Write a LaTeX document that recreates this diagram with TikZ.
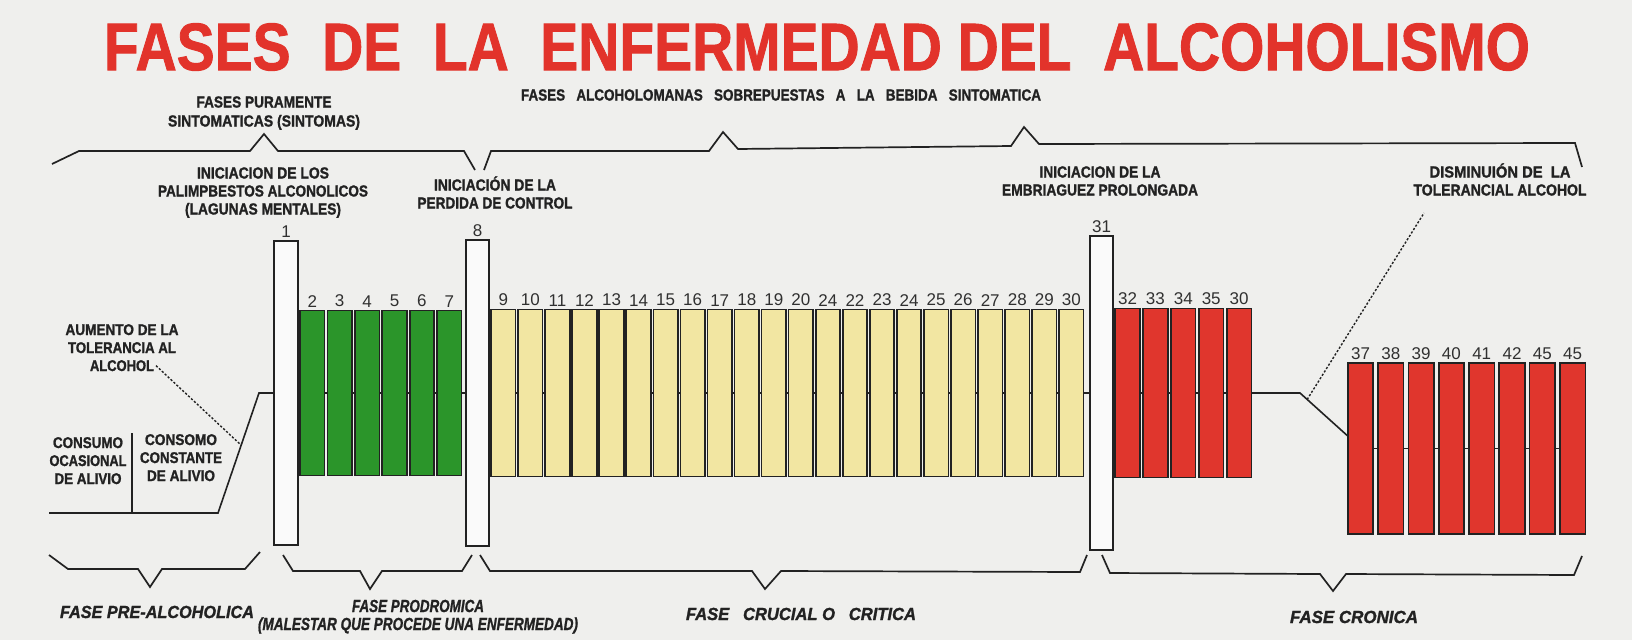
\documentclass[tikz,border=0pt]{standalone}
\usepackage{fontspec}
\usepackage{graphicx}
\setmainfont{Liberation Sans}
\newfontfamily\hf[FakeBold=1.4]{Liberation Sans}
\usetikzlibrary{calc}
\definecolor{bgc}{HTML}{EFEFED}
\definecolor{titlec}{HTML}{E2332B}
\definecolor{inkc}{HTML}{222222}
\definecolor{numc}{HTML}{303030}
\definecolor{gbarc}{HTML}{2B952A}
\definecolor{ybarc}{HTML}{F2E6A2}
\definecolor{rbarc}{HTML}{E0362D}
\definecolor{wbarc}{HTML}{FAFAFA}
\newcommand{\fw}[2]{\resizebox{#1pt}{\height}{#2}}
\pgfdeclarelayer{background}
\pgfsetlayers{background,main}
\begin{document}
\begin{tikzpicture}[x=1pt,y=-1pt,line join=miter,
  lbl/.style={anchor=base,inner sep=0pt,outer sep=0pt,text=inkc,font=\hf\bfseries\fontsize{16}{19}\selectfont},
  llbl/.style={lbl,font=\hf\bfseries\fontsize{15.5}{18}\selectfont},
  blbl/.style={lbl,font=\hf\bfseries\itshape\fontsize{17.5}{20}\selectfont},
  num/.style={inner sep=0pt,outer sep=0pt,text=numc,font=\fontsize{17}{17}\selectfont},
  barb/.style={draw=inkc,line width=1.7pt,inner sep=0pt,outer sep=0pt,minimum width=24.5pt},
  wbar/.style={barb,fill=wbarc},
  gbar/.style={barb,fill=gbarc,minimum height=165pt},
  ybar/.style={barb,fill=ybarc,minimum height=167pt},
  rbar/.style={barb,fill=rbarc,minimum height=169pt},
  rbarb/.style={barb,fill=rbarc,minimum width=25.5pt,minimum height=171pt},
  brace/.style={draw=inkc,line width=1.7pt},
  conn/.style={draw=inkc,line width=1.6pt},
  dots/.style={draw=inkc,line width=1.4pt,dash pattern=on 2.2pt off 1.8pt},
]
\useasboundingbox (0,0) rectangle (1632,640);
\begin{pgfonlayer}{background}
\fill[bgc] (0,0) rectangle (1632,640);
\end{pgfonlayer}

% title
\node[inner sep=0pt,text=titlec,font=\hf\bfseries\fontsize{67}{67}\selectfont] (ttl) at (817,47)
  {\resizebox{1426pt}{\height}{FASES\ \ DE\ \ LA\ \ ENFERMEDAD DEL\ \ ALCOHOLISMO}};

% top texts
\node[lbl] (tA1) at (264,107.5) {\fw{135}{FASES PURAMENTE}};
\node[lbl] (tA2) at (264,126.5) {\fw{192}{SINTOMATICAS (SINTOMAS)}};
\node[lbl] (tB) at (781,100.5) {\fw{520}{FASES\ \ \ ALCOHOLOMANAS\ \ \ SOBREPUESTAS\ \ \ A\ \ \ LA\ \ \ BEBIDA\ \ \ SINTOMATICA}};
\node[lbl] (tC1) at (263,178.5) {\fw{132}{INICIACION DE LOS}};
\node[lbl] (tC2) at (263,196.5) {\fw{210}{PALIMPBESTOS ALCONOLICOS}};
\node[lbl] (tC3) at (263,214.5) {\fw{156}{(LAGUNAS MENTALES)}};
\node[lbl] (tD1) at (495,190.5) {\fw{122}{INICIACIÓN DE LA}};
\node[lbl] (tD2) at (495,208.5) {\fw{155}{PERDIDA DE CONTROL}};
\node[lbl] (tE1) at (1100,177.5) {\fw{121}{INICIACION DE LA}};
\node[lbl] (tE2) at (1100,195.5) {\fw{196}{EMBRIAGUEZ PROLONGADA}};
\node[lbl] (tF1) at (1500,177.5) {\fw{141}{DISMINUIÓN DE\ \ LA}};
\node[lbl] (tF2) at (1500,195.5) {\fw{173}{TOLERANCIAL ALCOHOL}};

% left texts
\node[llbl] (tG1) at (122,335) {\fw{113}{AUMENTO DE LA}};
\node[llbl] (tG2) at (122,353) {\fw{108}{TOLERANCIA AL}};
\node[llbl] (tG3) at (122,371) {\fw{64}{ALCOHOL}};
\node[llbl] (tH1) at (88,448) {\fw{70}{CONSUMO}};
\node[llbl] (tH2) at (88,466) {\fw{77}{OCASIONAL}};
\node[llbl] (tH3) at (88,484) {\fw{67}{DE ALIVIO}};
\node[llbl] (tI1) at (181,445) {\fw{72}{CONSOMO}};
\node[llbl] (tI2) at (181,463) {\fw{82}{CONSTANTE}};
\node[llbl] (tI3) at (181,481) {\fw{68}{DE ALIVIO}};

% bottom texts
\node[blbl] (tJ) at (157,618) {\fw{194}{FASE PRE-ALCOHOLICA}};
\node[blbl] (tK1) at (418,612) {\fw{132}{FASE PRODROMICA}};
\node[blbl] (tK2) at (418,630) {\fw{320}{(MALESTAR QUE PROCEDE UNA ENFERMEDAD)}};
\node[blbl] (tL) at (801,620) {\fw{230}{FASE\ \ \ CRUCIAL O\ \ \ CRITICA}};
\node[blbl] (tM) at (1354,623) {\fw{128}{FASE CRONICA}};

% white bars
\node[wbar,minimum width=24pt,minimum height=304pt,label={[num,label distance=3.5pt]above:1}] (b1) at (286,393) {};
\node[wbar,minimum width=23pt,minimum height=306pt,label={[num,label distance=3.5pt]above:8}] (b8) at (477.5,393) {};
\node[wbar,minimum width=23pt,minimum height=314pt,label={[num,label distance=3.5pt]above:31}] (b31) at (1101.5,393) {};

% green bars
\foreach \n [count=\i from 0] in {2,3,4,5,6,7}
  \node[gbar,label={[num,label distance=3.5pt]above:\n}] (g\i) at (312.3+27.4*\i,393) {};
% yellow bars
\foreach \n [count=\i from 0] in {9,10,11,12,13,14,15,16,17,18,19,20,24,22,23,24,25,26,27,28,29,30}
  \node[ybar,label={[num,label distance=3.5pt]above:\n}] (y\i) at (503.3+27.05*\i,393) {};
% red bars (first group)
\foreach \n [count=\i from 0] in {32,33,34,35,30}
  \node[rbar,label={[num,label distance=3.5pt]above:\n}] (r\i) at (1127.5+27.9*\i,393) {};
% red bars (second group)
\foreach \n [count=\i from 0] in {37,38,39,40,41,42,45,45}
  \node[rbarb,label={[num,label distance=3.5pt]above:\n}] (s\i) at (1360.5+30.3*\i,448.5) {};

% connecting lines behind bars
\begin{pgfonlayer}{background}
\draw[conn] (b1.center) -- (r4.center);
\draw[conn] (s0.center) -- (s7.center);
\end{pgfonlayer}

% ramp (pre-alcoholic)
\coordinate (base0) at (49,513);
\coordinate (divB) at (132,513);
\coordinate (divT) at (132,433);
\coordinate (rampB) at (218,513);
\coordinate (rampT) at (259,393);
\draw[conn] (base0) -- (rampB) -- (rampT) -- (b1.west);
\draw[conn] (divT) -- (divB);
\coordinate (rampP) at ($(rampB)!0.565!(rampT)$);
\draw[dots] ([xshift=2pt]tG3.east) -- (rampP);

% chronic drop
\coordinate (kneeA) at (1300,393);
\coordinate (kneeB) at ([yshift=12.5pt]s0.west);
\draw[conn] (r4.east) -- (kneeA) -- (kneeB);
\coordinate (dotA) at ($(kneeA)!0.15!(kneeB)$);
\coordinate (dotB) at (1424,213);
\draw[dots] (dotA) -- (dotB);

% top braces
\draw[brace] (52,164) -- (79,151) -- (250,151) -- (264,134) -- (278,151) -- (464,151) -- (475,170);
\draw[brace] (484,170) -- (491,151) -- (709,151) -- (723,132) -- (738,149) -- (1011,146) -- (1024,127) -- (1039,144) -- (1575,143) -- (1582,167);

% bottom braces
\draw[brace] (49,555) -- (68,569) -- (138,569) -- (150,587) -- (162,569) -- (245,569) -- (260,552);
\draw[brace] (283,555) -- (293,571) -- (360,571) -- (370,589) -- (382,571) -- (462,571) -- (472,555);
\draw[brace] (480,555) -- (490,571) -- (752,571) -- (765,589) -- (781,571) -- (1080,572) -- (1087,555);
\draw[brace] (1102,555) -- (1110,573) -- (1320,574) -- (1333,591) -- (1346,574) -- (1574,575) -- (1582,556);
\end{tikzpicture}
\end{document}
